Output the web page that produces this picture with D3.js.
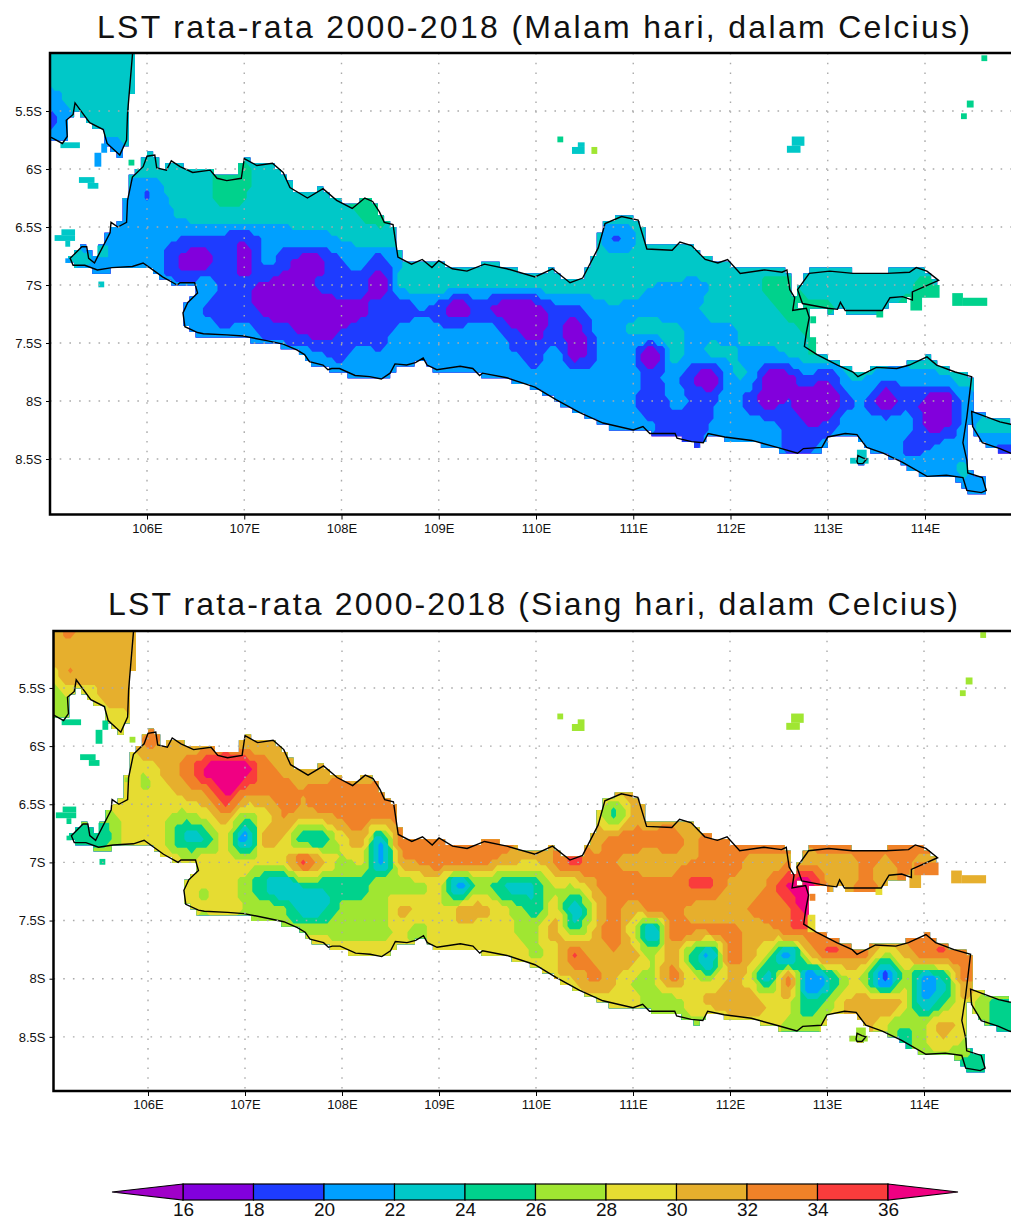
<!doctype html>
<html lang="id">

<head>
    <title>LST rata-rata 2000-2018</title>
    <meta charset="utf-8">
    <style>
        body { margin: 0; background: #fff; }
        text { font-family: "Liberation Sans", sans-serif; fill: #111; }
    </style>
</head>

<body>
    <div id="chart"></div>

    <script src="https://cdnjs.cloudflare.com/ajax/libs/d3/7.8.5/d3.min.js"></script>

    <script>
        const lonTicks = [106, 107, 108, 109, 110, 111, 112, 113, 114];
        const latTicks = [5.5, 6, 6.5, 7, 7.5, 8, 8.5];
        const legendLevels = [16, 18, 20, 22, 24, 26, 28, 30, 32, 34, 36];
        const legendColors = ["#a000c8", "#8200dc", "#1e3cff", "#00a0ff", "#00c8c8", "#00d28c", "#a0e632", "#e6dc32", "#e6af2d", "#f08228", "#fa3c3c", "#f00082"];

        // field values, grid of 0.2 deg from 105E / 5S. first number of a row = first column read
        const nightRows = [
            [0, 23, 23, 23, 23, 23, 23],
            [0, 23, 23, 23, 23, 23, 23],
            [0, 20.5, 22.5, 23, 23, 23, 23],
            [0, 19.5, 21.5, 22.5, 23, 23, 23],
            [0, 21, 21.5, 21.5, 21.5, 22, 23],
            [0, 22, 22, 22, 22, 22, 23, 23, 23.5, 23.5, 24.5, 24.5, 23, 23],
            [4, 22, 19.8, 22, 23, 23.5, 25, 24.2, 23.2, 23.2, 23.5, 23.5, 24, 24.5, 24.5],
            [4, 21.5, 20.8, 21.5, 22.5, 23, 23, 23, 23, 23, 23, 23, 23.2, 24.2, 24.5, 24, 23],
            [3, 21.5, 21, 21, 20.5, 19.8, 19.6, 19.5, 18.5, 20.3, 20.5, 21, 21.3, 22, 22.8, 23, 23, 23, 23, 23, 23, 23, 23, 23, 23, 23, 23, 19.8, 21.6, 23],
            [1, 22.5, 22, 21, 21, 21.5, 19.5, 17, 17, 19.5, 16.8, 20.5, 19.2, 17, 17.6, 19.8, 20.5, 18.8, 21.8, 22.5, 23],
            [7, 20.5, 21, 19.3, 18.5, 17.6, 16.8, 17.2, 18.5, 19, 19, 17, 22, 23, 23, 22.7, 22.5, 22, 22.5, 23, 23, 23, 23, 23, 23, 22, 21.8, 21.7, 22, 23, 23.3, 24.5, 24.8, 23, 23, 23, 23, 23, 23.4, 24.5, 23],
            [7, 21.8, 19.8, 19, 18.8, 17.4, 16.6, 16.6, 16.8, 17.3, 17.5, 19, 18.6, 20, 19.3, 16.6, 18.9, 17.5, 16.5, 16.8, 19.4, 19.3, 21, 21.8, 21.5, 21, 21, 21.5, 22.5, 23, 23, 23.5, 24.8, 24.8, 24.3, 23, 23, 23, 24.5, 23],
            [7, 21, 21, 20, 21, 19.5, 19, 17.5, 17, 18, 19, 19, 20.7, 21, 20.5, 20.5, 21, 20.5, 18, 17, 19, 16.8, 20, 21.3, 22.3, 22.5, 22.5, 21.5, 21.5, 21.7, 23, 23, 23.3, 24.3, 23],
            [13, 21, 20, 19.6, 20.8, 20.2, 21, 21, 21, 21, 21, 21, 20, 19.3, 21, 17, 19.5, 21, 20, 16.5, 22.5, 21.5, 22, 22.2, 21.5, 21, 22, 23, 23],
            [16, 21, 21, 21, 21, 21, 21, 21, 21, 21, 20.2, 21, 21.6, 21, 21, 21, 19, 21, 18.5, 16.6, 21.5, 21.5, 16.8, 17.5, 19.5, 18.3, 21.7, 21.9, 20.5, 20.8, 21, 21.5, 23, 23],
            [26, 21, 21, 21, 21, 20, 18, 20.5, 19.8, 19.6, 21, 19, 17, 18, 16.6, 16.2, 19.4, 19.8, 16.3, 19.4, 17.5, 16.3, 20.5, 21, 21, 21],
            [29, 21, 21, 20, 19.3, 18.5, 20, 21, 21, 20.5, 19.3, 17.8, 18.6, 21, 21, 21, 21, 17.8, 17.3, 20.8, 22.5, 23, 23],
            [33, 19.5, 21, 21, 21, 21, 19.5, 19.5, 21, 21, 21, 21, 19.8, 19.7, 21, 21, 21, 19.5, 19.5],
            [44, 21, 21, 21, 22.3, 21, 21, 21],
            [47, 21],
            [47, 21]
        ];
        const dayRows = [
            [0, 31.5, 32.2, 31, 31, 30.5, 30],
            [0, 31.5, 31.5, 31, 31, 30.5, 30],
            [0, 28.5, 31.8, 30.6, 31, 30.5, 29.5],
            [0, 27, 27.5, 28.8, 30.5, 30.5, 29],
            [0, 27, 27, 28, 29, 29.5, 31.5, 31.5, 31.5, 31],
            [3, 29, 29, 32.5, 31, 31.5, 31, 33, 31.5, 31, 31, 31],
            [4, 28.5, 28.5, 31, 33, 36.5, 37.5, 36.8, 33, 31.5, 31.3, 30.7, 31.2, 31, 31.5],
            [4, 28.7, 28, 29.5, 31.2, 32.5, 36.5, 33, 32.5, 32.7, 32, 33, 33, 32.5, 33, 33, 32, 32, 32, 32, 32, 32, 32, 32, 31, 31, 30, 31, 31],
            [3, 27.5, 29, 29, 28, 27, 29, 31.5, 27, 29, 32, 31, 31.5, 32.5, 33.2, 33, 33, 33, 33, 33, 32, 32, 32, 32, 31, 31, 30.3, 25.5, 30.5, 31, 31, 31, 31],
            [2, 24.5, 25.5, 29, 29, 27.5, 23.5, 24.5, 28.5, 21, 30.5, 29.5, 24.8, 25, 29, 31, 23, 32.8, 33, 33, 33, 33, 33, 32, 31.5, 31, 31.5, 31, 33, 33, 32.5, 33, 31.5, 33, 33.5, 33],
            [5, 29, 29, 29, 29.2, 29, 28.5, 28, 29, 34, 30.5, 27.5, 28, 21.5, 30.5, 32, 33, 33, 33, 31.5, 30, 29.5, 32.5, 34.5, 32.5, 32, 31.3, 31, 31.5, 32, 32.5, 33.5, 31.5, 31, 32, 31.5, 31.3, 31, 32.5, 31.5, 32.5, 31, 31],
            [7, 28.5, 28, 29, 27, 24, 22, 24.5, 24.5, 25.5, 25, 27.5, 26.8, 27.5, 28.5, 21, 27, 25, 23, 24.5, 28, 28, 31.5, 33, 33, 32.5, 32.5, 34.3, 34.2, 31.5, 31, 32.5, 36, 38, 32, 31, 33, 31, 32.5, 31, 30.5],
            [7, 28.5, 28, 29, 27.8, 27.5, 26, 23, 23.5, 26.5, 27, 27, 30.5, 29, 28.2, 30, 31, 29, 27, 25, 29, 23, 29, 32.5, 31, 32.5, 32.5, 31.5, 31, 31.3, 32, 33, 33.5, 37, 33],
            [13, 27.5, 27.5, 27.5, 27.5, 27.5, 28.2, 27.5, 29, 29, 28.5, 29.5, 27.8, 27.8, 30.7, 26.5, 30, 33.5, 28.2, 22, 32.5, 32, 32, 32.5, 31.5, 31, 33, 33, 33],
            [20, 29, 29, 29, 29, 29, 27.8, 29, 34, 31, 31.5, 31, 27.5, 31, 25.5, 22, 32.5, 31, 27, 21, 29, 33.5, 33, 32, 27.5, 30.5, 32.5, 33.5, 33],
            [27, 30, 32.5, 30.5, 28, 27.7, 32.5, 29, 27.5, 30.5, 29, 23.5, 32.5, 20.5, 23, 27.8, 27, 19, 27, 21.5, 24, 32, 31],
            [29, 29, 28.5, 27, 26.8, 29, 30.5, 31, 31, 29.5, 29, 24, 26.5, 30, 31, 31, 29.5, 22.5, 25, 29.5, 27, 25, 25],
            [33, 27.5, 27, 29, 29, 29, 27.5, 27, 28.5, 30, 31, 28.5, 26, 27.5, 30.7, 29, 27, 24.8, 24.5],
            [43, 28, 25.5, 27.5, 28.5, 27, 25, 25],
            [46, 25],
            [46, 25]
        ];

        // coast lines, [lon, lat south]
        const javaCoast = [[105.21, 6.77], [105.33, 6.67], [105.38, 6.67], [105.40, 6.77], [105.46, 6.81], [105.49, 6.76], [105.62, 6.55], [105.63, 6.46], [105.70, 6.50], [105.79, 6.46], [105.80, 6.27], [105.85, 6.07], [105.96, 5.98], [106.00, 5.89], [106.08, 5.88], [106.10, 5.99], [106.20, 6.01], [106.25, 5.93], [106.34, 5.98], [106.47, 6.03], [106.65, 6.01], [106.72, 6.08], [106.82, 6.10], [106.97, 6.08], [107.00, 5.91], [107.13, 5.97], [107.29, 5.95], [107.40, 6.03], [107.47, 6.16], [107.65, 6.25], [107.81, 6.17], [107.95, 6.27], [108.11, 6.34], [108.24, 6.25], [108.32, 6.28], [108.39, 6.37], [108.44, 6.46], [108.53, 6.48], [108.58, 6.76], [108.72, 6.82], [108.83, 6.78], [108.93, 6.85], [109.00, 6.79], [109.14, 6.86], [109.29, 6.88], [109.47, 6.82], [109.70, 6.86], [109.99, 6.93], [110.17, 6.86], [110.35, 6.98], [110.48, 6.94], [110.64, 6.68], [110.71, 6.47], [110.88, 6.41], [111.05, 6.44], [111.14, 6.69], [111.40, 6.70], [111.48, 6.63], [111.60, 6.66], [111.74, 6.78], [111.87, 6.81], [111.97, 6.78], [112.10, 6.90], [112.35, 6.87], [112.53, 6.89], [112.58, 6.87], [112.59, 6.93], [112.61, 7.04], [112.66, 7.11], [112.64, 7.22], [112.78, 7.20], [112.81, 7.28], [112.78, 7.41], [112.76, 7.53], [112.89, 7.60], [113.10, 7.69], [113.26, 7.75], [113.31, 7.79], [113.50, 7.71], [113.71, 7.72], [113.84, 7.69], [114.02, 7.62], [114.12, 7.69], [114.31, 7.75], [114.48, 7.79], [114.46, 7.93], [114.43, 8.14], [114.39, 8.36], [114.43, 8.51], [114.44, 8.62], [114.59, 8.66], [114.63, 8.77], [114.58, 8.79], [114.43, 8.77], [114.39, 8.66], [114.22, 8.64], [114.02, 8.65], [113.77, 8.53], [113.57, 8.45], [113.40, 8.40], [113.30, 8.29], [113.18, 8.28], [113.00, 8.31], [112.94, 8.40], [112.75, 8.41], [112.69, 8.45], [112.48, 8.40], [112.22, 8.34], [111.94, 8.31], [111.77, 8.28], [111.72, 8.36], [111.60, 8.35], [111.45, 8.32], [111.43, 8.28], [111.17, 8.28], [111.10, 8.22], [111.00, 8.25], [110.69, 8.19], [110.45, 8.10], [110.21, 7.99], [109.99, 7.88], [109.70, 7.80], [109.45, 7.76], [109.42, 7.78], [109.35, 7.72], [109.22, 7.70], [108.98, 7.73], [108.88, 7.69], [108.84, 7.63], [108.76, 7.67], [108.67, 7.69], [108.55, 7.68], [108.50, 7.76], [108.41, 7.81], [108.29, 7.79], [108.14, 7.78], [107.98, 7.72], [107.90, 7.72], [107.86, 7.73], [107.81, 7.69], [107.67, 7.66], [107.62, 7.60], [107.54, 7.56], [107.40, 7.51], [107.23, 7.48], [106.99, 7.44], [106.82, 7.43], [106.58, 7.42], [106.52, 7.41], [106.39, 7.36], [106.37, 7.24], [106.42, 7.15], [106.52, 7.07], [106.49, 6.98], [106.34, 6.98], [106.31, 7.00], [106.16, 6.93], [106.06, 6.87], [105.96, 6.81], [105.85, 6.84], [105.64, 6.85], [105.49, 6.87], [105.36, 6.83], [105.24, 6.83]];
        const maduraCoast = [[112.69, 7.04], [112.81, 6.90], [113.02, 6.88], [113.26, 6.90], [113.61, 6.90], [113.84, 6.89], [113.91, 6.85], [114.02, 6.88], [114.14, 6.96], [113.87, 7.06], [113.87, 7.13], [113.77, 7.10], [113.64, 7.11], [113.56, 7.22], [113.18, 7.22], [113.13, 7.15], [113.10, 7.21], [113.00, 7.20], [112.74, 7.16]];
        const baliCoast = [[114.48, 8.09], [114.77, 8.18], [114.88, 8.20], [115.08, 8.22], [115.08, 8.49], [114.88, 8.45], [114.77, 8.41], [114.59, 8.36], [114.49, 8.22]];
        const sumatraCoast = [[105.86, 4.9], [105.85, 5.02], [105.82, 5.32], [105.80, 5.52], [105.79, 5.75], [105.72, 5.88], [105.59, 5.78], [105.55, 5.66], [105.41, 5.60], [105.26, 5.43], [105.24, 5.53], [105.17, 5.58], [105.18, 5.72], [105.13, 5.78], [105.02, 5.73], [104.9, 5.7], [104.9, 4.9]];
        const barungCoast = [[113.30, 8.52], [113.31, 8.47], [113.36, 8.49], [113.40, 8.50], [113.36, 8.54], [113.31, 8.54]];

        // isolated data cells off the coast: lon0, lat0, lon1, lat1
        const islandCells = [[105.11, 5.77, 105.31, 5.82], [105.46, 5.86, 105.53, 5.98], [105.53, 5.78, 105.59, 5.86], [105.81, 5.92, 105.87, 5.97], [105.30, 6.07, 105.46, 6.12], [105.39, 6.12, 105.50, 6.17], [105.76, 6.27, 105.80, 6.31], [105.12, 6.52, 105.26, 6.57], [105.05, 6.57, 105.26, 6.62], [105.16, 6.62, 105.21, 6.67], [105.16, 6.77, 105.21, 6.81], [105.49, 6.66, 105.60, 6.76], [105.50, 6.97, 105.56, 7.02], [110.22, 5.72, 110.28, 5.77], [110.37, 5.81, 110.50, 5.87], [110.43, 5.77, 110.50, 5.81], [110.57, 5.81, 110.63, 5.87], [112.63, 5.72, 112.76, 5.80], [112.58, 5.80, 112.72, 5.86], [114.43, 5.41, 114.50, 5.47], [114.37, 5.52, 114.43, 5.57], [114.58, 5.02, 114.64, 5.07], [114.28, 7.07, 114.39, 7.18], [114.39, 7.11, 114.64, 7.18], [113.85, 7.06, 113.97, 7.22], [113.90, 7.00, 114.15, 7.11], [113.50, 7.22, 113.57, 7.28], [112.80, 7.45, 112.88, 7.60], [112.82, 7.27, 112.88, 7.33], [113.23, 8.49, 113.42, 8.54], [113.30, 8.42, 113.40, 8.49]];
        const islandNight = [23, 21, 21, 24.5, 23, 23, 21, 23, 23, 23, 21, 23, 22.7, 24.5, 23, 23, 26.5, 23, 23, 24.5, 24.5, 24.5, 24.5, 24.5, 24.5, 24.5, 24.5, 24.5, 24.5, 23, 23];
        const islandDay = [25, 25, 25, 27, 25, 25, 27, 25, 25, 25, 25, 25, 25, 27.5, 26.5, 26.5, null, 27, 27, 27, 27, 27, 31, 31, 31.5, 32.5, 29.5, 29.5, 33.5, 26, 26];

        const width = 1011;
        const height = 1221;
        const gridStep = 0.2;
        const gridCols = 51;
        const upFactor = 4;
        const fineStep = gridStep / upFactor;
        const cellLon = 1 / 16;
        const cellLat = 0.05;

        const panels = [
            { title: "LST rata-rata 2000-2018 (Malam hari, dalam Celcius)", rows: nightRows, islands: islandNight, titleX: [97, 873], titleY: 38, x: [49.75, 1022.25], y: [53, 517], frame: [50, 53, 514.5] },
            { title: "LST rata-rata 2000-2018 (Siang hari, dalam Celcius)", rows: dayRows, islands: islandDay, titleX: [108, 850], titleY: 615, x: [51, 1021], y: [629.8, 1095], frame: [53.5, 631, 1091] }
        ];

        const svg = d3.select("#chart").append("svg").attr("width", width).attr("height", height);
        const color = d3.scaleThreshold().domain(legendLevels).range(legendColors);
        const land = [javaCoast, maduraCoast, baliCoast, sumatraCoast, barungCoast];

        // land cells as runs per row, same blocky edge as the data grid
        function landRuns() {
            const runs = [];
            const inLand = (lon, lat) => land.some(p => d3.polygonContains(p, [lon, lat]));
            for (let m = -2; m < 80; m++) {
                const lat0 = 5 + m * cellLat;
                let start = null;
                for (let k = -4; k <= 170; k++) {
                    const lon0 = 105 + k * cellLon;
                    const corners = [[0, 0], [1, 0], [0, 1], [1, 1]].filter(c => inLand(lon0 + c[0] * cellLon, lat0 + c[1] * cellLat)).length;
                    const on = inLand(lon0 + cellLon / 2, lat0 + cellLat / 2) || corners >= 2;
                    if (on && start === null) start = lon0;
                    if (!on && start !== null) {
                        runs.push([start, lat0, lon0, lat0 + cellLat]);
                        start = null;
                    }
                }
            }
            return runs;
        }
        const runs = landRuns();

        // catmull-rom through the read values so the peaks stay where they were read
        function cubic(a, b, c, d, t) {
            return 0.5 * (2 * b + (c - a) * t + (2 * a - 5 * b + 4 * c - d) * t * t + (3 * b - a - 3 * c + d) * t * t * t);
        }

        function fineField(rows) {
            const full = rows.map(r => d3.range(gridCols).map(i => {
                const vals = r.slice(1);
                return vals[Math.max(0, Math.min(vals.length - 1, i - r[0]))];
            }));
            const nRows = full.length;
            const at = (j, i) => full[Math.max(0, Math.min(nRows - 1, j))][Math.max(0, Math.min(gridCols - 1, i))];
            const nx = (gridCols - 1) * upFactor + 1;
            const ny = (nRows - 1) * upFactor + 1;
            const data = new Array(nx * ny);
            for (let y = 0; y < ny; y++) {
                const j = Math.floor(y / upFactor);
                const fy = y / upFactor - j;
                for (let x = 0; x < nx; x++) {
                    const i = Math.floor(x / upFactor);
                    const fx = x / upFactor - i;
                    const col = [-1, 0, 1, 2].map(dj => cubic(at(j + dj, i - 1), at(j + dj, i), at(j + dj, i + 1), at(j + dj, i + 2), fx));
                    data[y * nx + x] = Math.max(16.01, cubic(col[0], col[1], col[2], col[3], fy));
                }
            }
            return { data, nx, ny };
        }

        function drawPanel(p, idx) {
            const x = d3.scaleLinear().domain([105, 115]).range(p.x);
            const y = d3.scaleLinear().domain([5, 9]).range(p.y);
            const left = p.frame[0], top = p.frame[1], bottom = p.frame[2];
            const g = svg.append("g");

            const defs = svg.append("defs");
            defs.append("clipPath").attr("id", "plot" + idx).append("rect")
                .attr("x", left).attr("y", top).attr("width", width - left + 5).attr("height", bottom - top);
            defs.append("clipPath").attr("id", "land" + idx).append("path")
                .attr("d", runs.map(r => {
                    const x0 = x(r[0]), x1 = x(r[2]), y0 = y(r[1]), y1 = y(r[3]) + 0.4;
                    return `M${x0},${y0}H${x1}V${y1}H${x0}Z`;
                }).join(""));

            const plot = g.append("g").attr("clip-path", `url(#plot${idx})`);
            const field = plot.append("g").attr("clip-path", `url(#land${idx})`);

            const f = fineField(p.rows);
            const toMap = d3.geoTransform({
                point: function (cx, cy) {
                    this.stream.point(x(105 + (cx - 0.5) * fineStep), y(5 + (cy - 0.5) * fineStep));
                }
            });
            const path = d3.geoPath(toMap);
            const contours = d3.contours().size([f.nx, f.ny]).smooth(false).thresholds(legendLevels)(f.data);

            field.append("rect").attr("x", left).attr("y", top)
                .attr("width", width).attr("height", bottom - top).attr("fill", legendColors[0]);
            field.selectAll("path")
                .data(contours)
                .join("path")
                .attr("d", path)
                .attr("fill", d => color(d.value));

            plot.selectAll("rect.cell")
                .data(islandCells.map((c, i) => ({ c, v: p.islands[i] })).filter(d => d.v !== null))
                .join("rect")
                .attr("class", "cell")
                .attr("x", d => x(d.c[0]))
                .attr("y", d => y(d.c[1]))
                .attr("width", d => x(d.c[2]) - x(d.c[0]))
                .attr("height", d => y(d.c[3]) - y(d.c[1]))
                .attr("fill", d => color(d.v));

            const coastLine = d3.line().x(d => x(d[0])).y(d => y(d[1])).curve(d3.curveLinearClosed);
            plot.selectAll("path.coast")
                .data(land)
                .join("path")
                .attr("class", "coast")
                .attr("d", coastLine)
                .attr("fill", "none")
                .attr("stroke", "#000")
                .attr("stroke-width", 1.4);

            // dotted graticule
            plot.selectAll("line.glon")
                .data(lonTicks)
                .join("line")
                .attr("class", "glon")
                .attr("x1", d => x(d)).attr("x2", d => x(d))
                .attr("y1", top).attr("y2", bottom);
            plot.selectAll("line.glat")
                .data(latTicks)
                .join("line")
                .attr("class", "glat")
                .attr("x1", left).attr("x2", width)
                .attr("y1", d => y(d)).attr("y2", d => y(d));
            plot.selectAll("line.glon,line.glat")
                .attr("stroke", "#aaa")
                .attr("stroke-width", 1.4)
                .attr("stroke-dasharray", "1.6 8.1");

            g.append("g")
                .attr("transform", `translate(0,${bottom})`)
                .call(d3.axisBottom(x).tickValues(lonTicks).tickFormat(d => d + "E").tickSize(5).tickPadding(4))
                .call(a => a.select(".domain").remove())
                .call(a => a.selectAll("text").attr("font-size", 13).attr("font-family", "Liberation Sans"));
            g.append("g")
                .attr("transform", `translate(${left},0)`)
                .call(d3.axisLeft(y).tickValues(latTicks).tickFormat(d => d + "S").tickSize(4).tickPadding(4))
                .call(a => a.select(".domain").remove())
                .call(a => a.selectAll("text").attr("font-size", 13).attr("font-family", "Liberation Sans"));

            g.append("path")
                .attr("d", `M${width + 5},${top}H${left}V${bottom}H${width + 5}`)
                .attr("fill", "none")
                .attr("stroke", "#000")
                .attr("stroke-width", 2.5);

            g.append("text")
                .attr("x", p.titleX[0])
                .attr("y", p.titleY)
                .attr("font-size", 32)
                .attr("textLength", p.titleX[1])
                .attr("lengthAdjust", "spacing")
                .text(p.title);
        }

        panels.forEach(drawPanel);

        // colour bar
        const bar = d3.scaleLinear().domain([16, 36]).range([183, 888]);
        const barTop = 1184, barBottom = 1200, barMid = (barTop + barBottom) / 2;
        const legend = svg.append("g");
        const spans = legendLevels.slice(1).map((d, i) => [legendLevels[i], d]);
        legend.selectAll("rect")
            .data(spans)
            .join("rect")
            .attr("x", d => bar(d[0]))
            .attr("y", barTop)
            .attr("width", d => bar(d[1]) - bar(d[0]))
            .attr("height", barBottom - barTop)
            .attr("fill", d => color(d[0]))
            .attr("stroke", "#000")
            .attr("stroke-width", 1.2);
        legend.append("path")
            .attr("d", `M${bar(16)},${barTop}L112,${barMid}L${bar(16)},${barBottom}Z`)
            .attr("fill", legendColors[0]).attr("stroke", "#000").attr("stroke-width", 1.2);
        legend.append("path")
            .attr("d", `M${bar(36)},${barTop}L958,${barMid}L${bar(36)},${barBottom}Z`)
            .attr("fill", legendColors[11]).attr("stroke", "#000").attr("stroke-width", 1.2);
        legend.append("g")
            .attr("transform", `translate(0,${barBottom})`)
            .call(d3.axisBottom(bar).tickValues(legendLevels).tickSize(0).tickPadding(2))
            .call(a => a.select(".domain").remove())
            .call(a => a.selectAll("text").attr("font-size", 19).attr("font-family", "Liberation Sans"));
    </script>
</body>

</html>
